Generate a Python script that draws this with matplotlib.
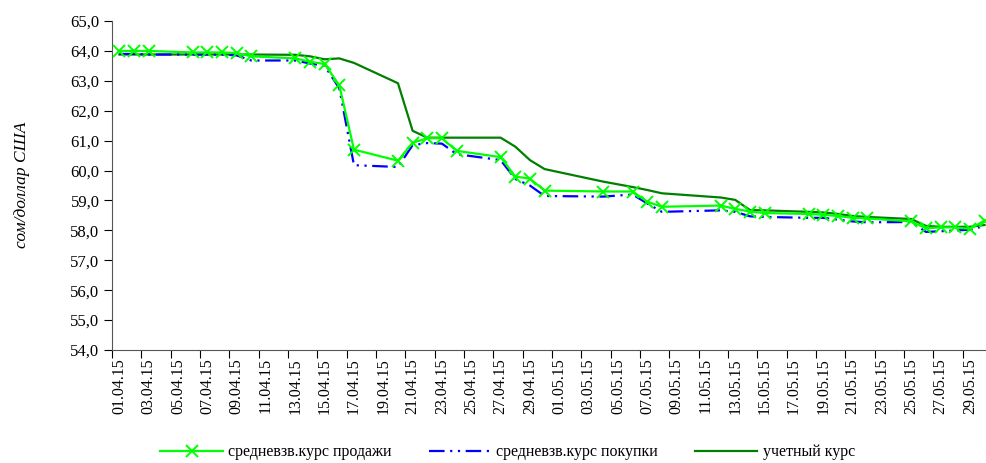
import matplotlib
matplotlib.use("Agg")
import matplotlib.pyplot as plt
import numpy as np
import pandas as pd

plt.rcParams['font.family'] = ['Liberation Serif', 'DejaVu Serif']

dates = ['01.04.15', '02.04.15', '03.04.15', '06.04.15', '07.04.15', '08.04.15',
         '09.04.15', '10.04.15', '13.04.15', '14.04.15', '15.04.15', '16.04.15',
         '17.04.15', '20.04.15', '21.04.15', '22.04.15', '23.04.15', '24.04.15',
         '27.04.15', '28.04.15', '29.04.15', '30.04.15', '04.05.15', '06.05.15',
         '07.05.15', '08.05.15', '12.05.15', '13.05.15', '14.05.15', '15.05.15',
         '18.05.15', '19.05.15', '20.05.15', '21.05.15', '22.05.15', '25.05.15',
         '26.05.15', '27.05.15', '28.05.15', '29.05.15', '30.05.15']

# средневзв.курс продажи
sell = [64.00, 64.00, 64.00, 63.95, 63.95, 63.95, 63.93, 63.82, 63.75, 63.64,
        63.56, 62.85, 60.70, 60.33, 60.93, 61.08, 61.08, 60.66, 60.45, 59.80,
        59.73, 59.33, 59.30, 59.30, 58.96, 58.79, 58.83, 58.72, 58.63, 58.58,
        58.55, 58.52, 58.48, 58.42, 58.40, 58.30, 58.07, 58.10, 58.10, 58.05,
        58.33]

# средневзв.курс покупки
buy = [63.90, 63.90, 63.88, 63.88, 63.88, 63.88, 63.85, 63.68, 63.68, 63.58,
       63.50, 62.75, 60.18, 60.12, 60.85, 60.92, 60.90, 60.55, 60.35, 59.72,
       59.50, 59.15, 59.13, 59.20, 58.90, 58.62, 58.67, 58.62, 58.47, 58.45,
       58.42, 58.42, 58.36, 58.30, 58.27, 58.28, 57.95, 57.97, 58.00, 58.02,
       58.15]

# учетный курс
official = [63.88, 63.88, 63.88, 63.88, 63.88, 63.88, 63.88, 63.88, 63.87, 63.82,
            63.72, 63.75, 63.60, 62.92, 61.33, 61.10, 61.10, 61.10, 61.10, 60.80,
            60.35, 60.05, 59.63, 59.45, 59.35, 59.24, 59.10, 59.02, 58.68, 58.67,
            58.62, 58.60, 58.55, 58.48, 58.45, 58.38, 58.15, 58.12, 58.12, 58.12,
            58.18]

labels = ['средневзв.курс продажи', 'средневзв.курс покупки', 'учетный курс']
yticks = np.arange(54, 65.1, 1.0)

x = pd.to_datetime(dates, format='%d.%m.%y')

fig = plt.figure(figsize=(9.86, 4.63), dpi=100)
ax = fig.add_axes([0.1136, 0.244, 0.8864, 0.7106])

ax.plot(x, sell, color='#00ff00', lw=1.6, marker='x', ms=9, mew=1.4,
        label=labels[0], zorder=3)
ax.plot(x, buy, color='#0000ff', lw=1.6, dashes=(7, 2.5, 1, 2.5, 1, 2.5),
        label=labels[1], zorder=2)
ax.plot(x, official, color='#008000', lw=1.6, label=labels[2], zorder=1)

start = pd.Timestamp('2015-03-31 12:00')
ax.set_xlim(start, start + pd.Timedelta(days=59.6))
ax.set_ylim(54, 65)

lab_days = pd.date_range('2015-04-01', '2015-05-29', freq='2D')
ax.set_xticks(lab_days - pd.Timedelta(hours=12))
ax.set_xticklabels([])
ax.set_xticks(lab_days, minor=True)
ax.set_xticklabels([d.strftime('%d.%m.%y') for d in lab_days], minor=True,
                   rotation=90, fontsize=11.5)
ax.tick_params(axis='x', which='minor', length=0, pad=6)
ax.tick_params(axis='x', which='major', length=6, direction='out')

ax.set_yticks(yticks)
ax.set_yticklabels([f'{v:.1f}'.replace('.', ',') for v in yticks], fontsize=12)
ax.tick_params(axis='y', length=6, direction='out', pad=3)

for s in ['top', 'right']:
    ax.spines[s].set_visible(False)
for s in ['left', 'bottom']:
    ax.spines[s].set_color('#555555')

fig.text(0.022, 0.6, 'сом/доллар США', rotation=90, style='italic',
         fontsize=12.5, ha='center', va='center')

fig.legend(loc='lower center', bbox_to_anchor=(0.515, -0.025), ncol=3,
           frameon=False, fontsize=11.5, handlelength=3.9, columnspacing=2.3,
           handletextpad=0.35)

fig.savefig('out.png', dpi=100)
